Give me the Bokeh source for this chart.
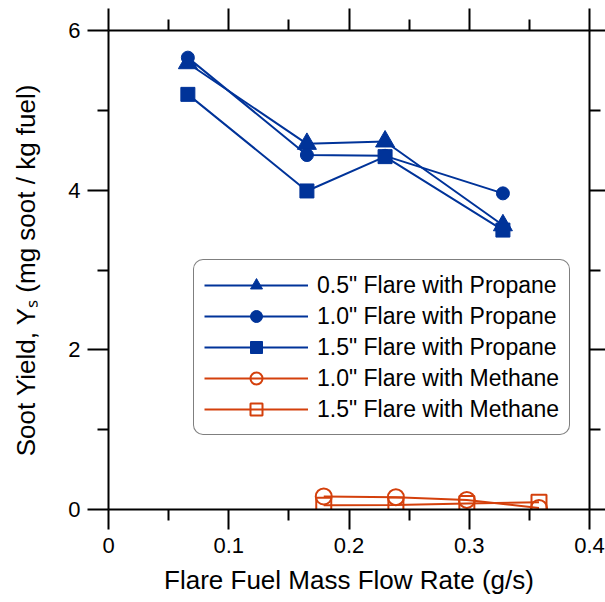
from bokeh.plotting import figure
from bokeh.models import Range1d, FixedTicker, LinearAxis, CustomLabelingPolicy
from bokeh.embed import file_html
from bokeh.resources import INLINE

# ---- data ----
x_propane = [0.066, 0.165, 0.230, 0.328]
y_05_propane = [5.59, 4.58, 4.61, 3.56]
y_10_propane = [5.66, 4.44, 4.43, 3.96]
y_15_propane = [5.20, 3.99, 4.42, 3.50]

x_methane = [0.179, 0.239, 0.298, 0.358]
y_10_methane = [0.163, 0.155, 0.12, 0.02]
y_15_methane = [0.054, 0.056, 0.075, 0.09]

x_major = [0, 0.1, 0.2, 0.3, 0.4]
x_minor = [0.05, 0.15, 0.25, 0.35]
y_major = [0, 2, 4, 6]
y_minor = [1, 3, 5]

BLUE = "#003399"
ORANGE = "#D4400C"
FONT = "Liberation Sans"

p = figure(width=605, height=602, output_backend="svg", toolbar_location=None,
           x_range=Range1d(0, 0.4), y_range=Range1d(0, 6),
           x_axis_label="Flare Fuel Mass Flow Rate (g/s)",
           y_axis_label="Soot Yield, Y\u209b (mg soot / kg fuel)",
           min_border_left=108, min_border_right=16, min_border_top=30, min_border_bottom=93)
p.grid.visible = False
p.outline_line_color = None
p.background_fill_color = "white"
p.border_fill_color = "white"

xt = FixedTicker(ticks=x_major, minor_ticks=x_minor)
yt = FixedTicker(ticks=y_major, minor_ticks=y_minor)

def style_axis(ax, out_major, out_minor, label_size="22px"):
    ax.axis_line_width = 2
    ax.axis_line_color = "black"
    ax.major_tick_line_width = 2
    ax.minor_tick_line_width = 2
    ax.major_tick_line_color = "black"
    ax.minor_tick_line_color = "black"
    ax.major_tick_in = 0
    ax.minor_tick_in = 0
    ax.major_tick_out = out_major
    ax.minor_tick_out = out_minor
    ax.major_label_text_font = FONT
    ax.major_label_text_font_size = label_size
    ax.major_label_text_color = "black"
    ax.axis_label_text_font = FONT
    ax.axis_label_text_font_size = "26px"
    ax.axis_label_text_font_style = "normal"
    ax.axis_label_text_color = "black"

bx = p.xaxis[0]
bx.ticker = xt
bx.major_label_overrides = {0: "0"}
style_axis(bx, 20, 11)
bx.major_label_standoff = 8
bx.axis_label_standoff = 9

ly = p.yaxis[0]
ly.ticker = yt
style_axis(ly, 21, 11)
ly.major_label_standoff = 7
ly.axis_label_standoff = 24

tx = LinearAxis(ticker=xt, major_label_policy=CustomLabelingPolicy(code="return new Set()"))
style_axis(tx, 22, 11, label_size="0px")
tx.major_label_standoff = 0
tx.axis_label_standoff = 0
p.add_layout(tx, "above")

ry = LinearAxis(ticker=yt, major_label_policy=CustomLabelingPolicy(code="return new Set()"))
style_axis(ry, 16, 11, label_size="0px")
ry.major_label_standoff = 0
ry.axis_label_standoff = 0
p.add_layout(ry, "right")

LW = 2

# propane (blue, filled)
p.line(x_propane, y_05_propane, color=BLUE, line_width=LW, legend_label="0.5\" Flare with Propane")
p.scatter(x_propane, y_05_propane, marker="triangle", size=19, color=BLUE,
          legend_label="0.5\" Flare with Propane")
p.line(x_propane, y_10_propane, color=BLUE, line_width=LW, legend_label="1.0\" Flare with Propane")
p.scatter(x_propane, y_10_propane, marker="circle", size=13, color=BLUE,
          legend_label="1.0\" Flare with Propane")
p.line(x_propane, y_15_propane, color=BLUE, line_width=LW, legend_label="1.5\" Flare with Propane")
p.scatter(x_propane, y_15_propane, marker="square", size=14, color=BLUE,
          legend_label="1.5\" Flare with Propane")

# methane (orange, hollow)
p.line(x_methane, y_10_methane, color=ORANGE, line_width=LW, legend_label="1.0\" Flare with Methane")
p.scatter(x_methane, y_10_methane, marker="circle", size=16, line_color=ORANGE, line_width=2,
          fill_color=None, legend_label="1.0\" Flare with Methane")
p.line(x_methane, y_15_methane, color=ORANGE, line_width=LW, legend_label="1.5\" Flare with Methane")
p.scatter(x_methane, y_15_methane, marker="square", size=15, line_color=ORANGE, line_width=2,
          fill_color=None, legend_label="1.5\" Flare with Methane")

lg = p.legend[0]
lg.location = (85, 74)
lg.border_line_color = "black"
lg.border_line_width = 1
lg.border_radius = 10
lg.background_fill_color = "white"
lg.background_fill_alpha = 1
lg.label_text_font = FONT
lg.label_text_font_size = "23px"
lg.label_text_color = "black"
lg.glyph_width = 104
lg.glyph_height = 30
lg.label_height = 30
lg.spacing = 1
lg.padding = 10
lg.label_standoff = 9
lg.margin = 0

open("out.html", "w").write(file_html(p, INLINE))
